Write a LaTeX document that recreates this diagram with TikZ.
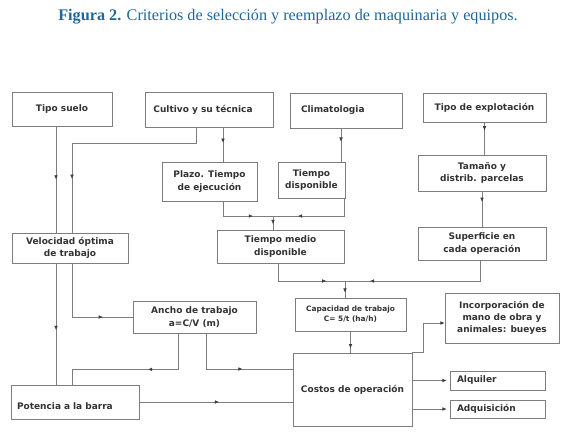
\documentclass[tikz,border=0pt]{standalone}
\usepackage{fontspec}
\setmainfont{Liberation Serif}
\setsansfont{DejaVu Sans}
\usetikzlibrary{arrows.meta,decorations.markings}
\definecolor{capblue}{RGB}{30,104,152}
\definecolor{linegray}{RGB}{125,125,125}
\definecolor{tipgray}{RGB}{60,60,60}
\definecolor{textgray}{RGB}{50,50,50}
\begin{document}
\begin{tikzpicture}[x=1pt, y=-1pt,
  box/.style={draw=linegray, line width=0.7pt, text=textgray, align=center, inner sep=2pt,
    font=\sffamily\bfseries\fontsize{9}{12.5}\selectfont},
  link/.style={draw=linegray, line width=0.6pt},
  midarr/.style={link, postaction={decorate},
    decoration={markings, mark=at position #1 with {\arrow[tipgray]{Latex[length=4.2pt,width=3.6pt]}}}},
  midarr/.default=0.5,
  endarr/.style={link, -{Latex[length=4.2pt,width=3.6pt,color=tipgray]}}]
  \useasboundingbox (0,0) rectangle (567,431);
  \node[text=capblue, font=\fontsize{16.2}{18}\selectfont] (caption) at (288,17)
    {\textbf{Figura 2.} Criterios de selección y reemplazo de maquinaria y equipos.};
  \node[box, minimum width=100pt, minimum height=34pt] (suelo) at (62,109) {Tipo suelo};
  \node[box, minimum width=128pt, minimum height=35pt] (cultivo) at (209,109.5) {Cultivo y su técnica\hspace{12pt}};
  \node[box, minimum width=112pt, minimum height=35pt, text width=90pt, inner xsep=11pt, align=left] (clima) at (346,110.5) {Climatologia};
  \node[box, minimum width=123pt, minimum height=29pt] (explot) at (484.5,107.5) {Tipo de explotación};
  \node[box, minimum width=95pt, minimum height=39pt] (plazo) at (209.5,181.5) {Plazo. Tiempo\\de ejecución};
  \node[box, minimum width=67pt, minimum height=36pt] (tdisp) at (311.5,180) {Tiempo\\disponible};
  \node[box, minimum width=128pt, minimum height=36pt] (tamano) at (482,173) {Tamaño y\\distrib. parcelas};
  \node[box, minimum width=116pt, minimum height=30pt] (veloc) at (70,248) {Velocidad óptima\\de trabajo};
  \node[box, minimum width=127pt, minimum height=33pt] (tmedio) at (280.5,246.5) {Tiempo medio\\disponible};
  \node[box, minimum width=128pt, minimum height=33pt] (superf) at (482,243.5) {Superficie en\\cada operación};
  \node[box, minimum width=123pt, minimum height=32pt] (ancho) at (194.5,317) {Ancho de trabajo\\a=C/V (m)};
  \node[box, minimum width=111pt, minimum height=33pt, font=\sffamily\bfseries\fontsize{7.4}{10}\selectfont] (capac) at (350.5,314.5) {Capacidad de trabajo\\C= 5/t (ha/h)};
  \node[box, minimum width=114pt, minimum height=50pt, font=\sffamily\bfseries\fontsize{9}{12}\selectfont] (incorp) at (502,318) {Incorporación de\\mano de obra y\\animales: bueyes};
  \node[box, minimum width=119pt, minimum height=73pt] (costos) at (352.5,389.5) {Costos de operación};
  \node[box, minimum width=95pt, minimum height=19pt, text width=81pt, inner xsep=7pt, align=left] (alquiler) at (497.5,380.5) {Alquiler};
  \node[box, minimum width=95pt, minimum height=18pt, text width=81pt, inner xsep=7pt, align=left] (adquis) at (497.5,409) {Adquisición};
  \node[box, minimum width=128pt, minimum height=34pt, text width=116pt, inner xsep=6pt, align=left] (potencia) at (75,402) {\rule{0pt}{15pt}Potencia a la barra};
  \draw[midarr] ([xshift=-6pt]suelo.south) -- ([xshift=-14pt]veloc.north);
  \draw[midarr=0.55] ([xshift=-14pt]veloc.south) -- ([xshift=-19pt]potencia.north);
  \coordinate (c1) at (72,143);
  \draw[link] ([xshift=-13pt]cultivo.south) |- (c1);
  \draw[midarr=0.4] (c1) -- ([xshift=2pt]veloc.north);
  \draw[midarr=0.74] ([xshift=2pt]veloc.south) |- (ancho.west);
  \draw[midarr=0.45] ([xshift=14pt]cultivo.south) -- ([xshift=13.5pt]plazo.north);
  \draw[midarr=0.4] ([xshift=-5pt]clima.south) -- ([xshift=29.5pt]tdisp.north);
  \coordinate (m1) at (273,216);
  \draw[midarr=0.69] ([xshift=13.5pt]plazo.south) |- (m1);
  \draw[midarr=0.72] ([xshift=33pt]tdisp.south) |- (m1);
  \draw[midarr=0.6] (m1) -- (m1 |- tmedio.north);
  \draw[midarr=0.25] (explot.south) -- (explot.south |- tamano.north);
  \draw[midarr=0.3] (tamano.south) -- (superf.north);
  \coordinate (m2) at (345,281);
  \draw[midarr=0.84] ([xshift=-2pt]superf.south) |- (m2);
  \draw[midarr=0.78] ([xshift=-2.5pt]tmedio.south) |- (m2);
  \draw[midarr=0.7] (m2) -- (m2 |- capac.north);
  \draw[midarr=0.8] (capac.south) -- (capac.south |- costos.north);
  \draw[midarr=0.42] ([xshift=-16.5pt]ancho.south) -- ++(0,36) -| ([xshift=-3pt]potencia.north);
  \draw[midarr=0.59] ([xshift=11.5pt]ancho.south) |- ([yshift=20.5pt]costos.west);
  \draw[midarr=0.52] (potencia.east) -- (potencia.east -| costos.west);
  \draw[endarr] (costos.north east) -- ++(11,0) |- ([yshift=-5pt]incorp.west);
  \draw[endarr, shorten >=3pt] (costos.east |- alquiler.west) -- (alquiler.west);
  \draw[endarr, shorten >=3pt] (costos.east |- adquis.west) -- (adquis.west);
\end{tikzpicture}
\end{document}
